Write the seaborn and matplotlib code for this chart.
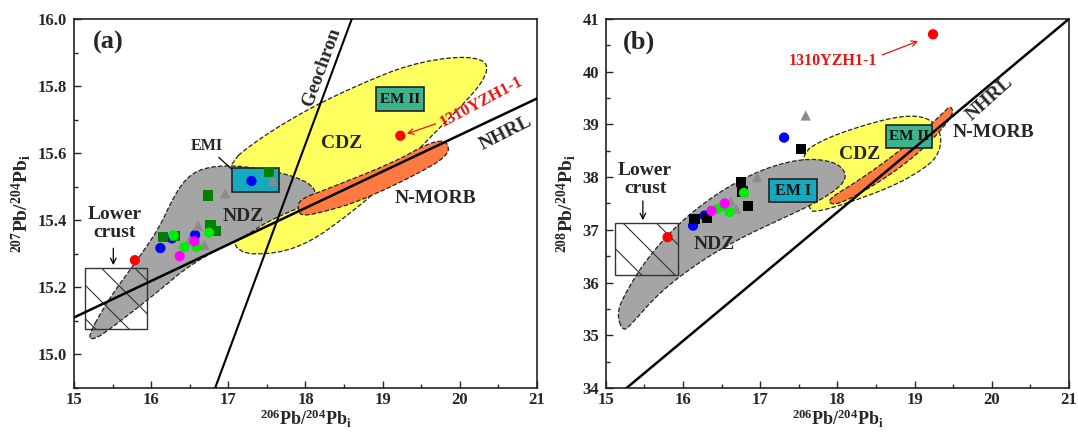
import numpy as np
import pandas as pd
import matplotlib
matplotlib.use("Agg")
import matplotlib.pyplot as plt
import seaborn as sns
from matplotlib.patches import Polygon, Rectangle
from matplotlib.ticker import MultipleLocator

# ---- sample data, panel (a): 206Pb/204Pb vs 207Pb/204Pb ----
a_blue_x = [16.12, 16.27, 16.57, 17.30]
a_blue_y = [15.317, 15.346, 15.356, 15.517]
a_sq_x = [16.15, 16.31, 16.74, 16.77, 16.84, 17.53]
a_sq_y = [15.349, 15.352, 15.474, 15.386, 15.368, 15.543]
a_tri_x = [16.50, 16.61, 16.69, 16.96, 17.58]
a_tri_y = [15.342, 15.384, 15.327, 15.480, 15.518]
a_lime_x = [16.29, 16.43, 16.59, 16.75]
a_lime_y = [15.355, 15.320, 15.321, 15.363]
a_mag_x = [16.37, 16.56]
a_mag_y = [15.293, 15.337]
a_red_x = [15.79, 19.23]
a_red_y = [15.281, 15.652]

# ---- sample data, panel (b): 206Pb/204Pb vs 208Pb/204Pb ----
b_blue_x = [16.13, 16.28, 17.31]
b_blue_y = [37.08, 37.27, 38.75]
b_sq_x = [16.15, 16.31, 16.75, 16.77, 16.84, 17.53]
b_sq_y = [37.21, 37.22, 37.91, 37.73, 37.45, 38.53]
b_tri_x = [16.55, 16.62, 16.69, 16.96, 17.59]
b_tri_y = [37.46, 37.54, 37.40, 38.00, 39.17]
b_lime_x = [16.45, 16.60, 16.79]
b_lime_y = [37.40, 37.34, 37.70]
b_mag_x = [16.37, 16.54]
b_mag_y = [37.36, 37.50]
b_red_x = [15.80, 19.24]
b_red_y = [36.86, 40.71]

# ---- reference fields (outline vertices) ----
a_ndz = [(15.17, 15.05), (15.45, 15.165), (15.80, 15.275), (16.10, 15.375), (16.28, 15.465),
         (16.45, 15.525), (16.67, 15.556), (17.06, 15.565), (17.63, 15.545), (17.98, 15.52),
         (18.14, 15.49), (18.10, 15.455), (17.84, 15.43), (17.50, 15.395), (17.24, 15.355),
         (16.55, 15.276), (16.03, 15.176), (15.47, 15.076), (15.27, 15.045)]
a_cdz = [(16.96, 15.562), (17.41, 15.645), (18.06, 15.735), (18.70, 15.805), (19.35, 15.865),
         (20.0, 15.89), (20.37, 15.875), (20.32, 15.818), (20.0, 15.735), (19.65, 15.655),
         (19.44, 15.605), (18.92, 15.485), (18.49, 15.405), (18.06, 15.335), (17.63, 15.3),
         (17.09, 15.3), (17.03, 15.40)]
a_morb = [(17.92, 15.462), (18.27, 15.492), (19.14, 15.572), (19.61, 15.632), (19.84, 15.638),
          (19.86, 15.592), (19.35, 15.526), (18.70, 15.457), (18.27, 15.427), (17.96, 15.412),
          (17.90, 15.43)]
b_ndz = [(15.22, 35.06), (15.14, 35.42), (15.26, 35.82), (15.53, 36.45), (15.92, 37.09),
         (16.35, 37.60), (16.78, 37.98), (17.21, 38.24), (17.64, 38.36), (18.01, 38.27),
         (18.13, 38.02), (18.01, 37.78), (17.69, 37.49), (17.25, 37.19), (16.74, 36.84),
         (16.22, 36.40), (15.70, 35.82), (15.35, 35.24)]
b_cdz = [(17.62, 37.36), (17.50, 38.42), (17.86, 38.75), (18.51, 39.06), (18.94, 39.18),
         (19.22, 39.10), (19.36, 38.78), (19.30, 38.38), (19.07, 38.11), (18.72, 37.83),
         (18.20, 37.54), (17.77, 37.35)]
b_morb = [(17.88, 37.58), (18.29, 37.95), (18.72, 38.40), (19.15, 38.91), (19.37, 39.22),
          (19.47, 39.36), (19.51, 39.19), (19.24, 38.72), (18.90, 38.27), (18.46, 37.83),
          (18.07, 37.52), (17.92, 37.48)]

# boxes: x0, x1, y0, y1
a_crust = (15.14, 15.95, 15.075, 15.257)
a_em1 = (17.05, 17.66, 15.483, 15.557)
a_em2 = (18.92, 19.53, 15.726, 15.796)
b_crust = (15.12, 15.94, 36.14, 37.12)
b_em1 = (17.12, 17.74, 37.52, 37.97)
b_em2 = (18.63, 19.23, 38.56, 38.99)

# reference lines
a_nhrl_x = [15.0, 21.0]
a_nhrl_y = [15.11, 15.763]
a_geo_x = [16.83, 18.60]
a_geo_y = [14.9, 16.0]
b_nhrl_x = [15.27, 21.0]
b_nhrl_y = [34.0, 41.0]

sns.set_style("ticks")
plt.rcParams['font.family'] = ['Liberation Serif', 'DejaVu Serif']
plt.rcParams['font.weight'] = 'bold'
plt.rcParams['axes.labelweight'] = 'bold'
plt.rcParams['mathtext.fontset'] = 'custom'
plt.rcParams['mathtext.rm'] = 'Liberation Serif:bold'
plt.rcParams['mathtext.bf'] = 'Liberation Serif:bold'
plt.rcParams['mathtext.it'] = 'Liberation Serif:bold'
plt.rcParams['hatch.linewidth'] = 0.8

GRAY = '#a5a5a5'
YELLOW = '#ffff60'
ORANGE = '#ff7a40'
CYAN = '#16aabf'
TEAL = '#3cb38c'
RED_TXT = '#ee1111'


def smooth(pts, n=2):
    p = np.array(pts)
    for _ in range(n):
        q = np.roll(p, -1, axis=0)
        p = np.stack([0.75 * p + 0.25 * q, 0.25 * p + 0.75 * q], axis=1).reshape(-1, 2)
    return p


def field(ax, pts, color, z=1):
    ax.add_patch(Polygon(smooth(pts), closed=True, facecolor=color,
                         edgecolor='#222222', lw=0.9, linestyle='--', zorder=z))


def box(ax, b, color, label=None, fs=11):
    x0, x1, y0, y1 = b
    ax.add_patch(Rectangle((x0, y0), x1 - x0, y1 - y0, facecolor=color,
                           edgecolor='#222222', lw=1.2, zorder=4))
    if label:
        ax.text((x0 + x1) / 2, (y0 + y1) / 2, label, ha='center', va='center',
                fontsize=fs, fontweight='bold', color='#111111', zorder=5)


def crust(ax, b):
    x0, x1, y0, y1 = b
    ax.add_patch(Rectangle((x0, y0), x1 - x0, y1 - y0, fill=False, hatch='\\',
                           edgecolor='#333333', lw=1.0, zorder=3))


def label(ax, x, y, s, fs=14, **kw):
    ax.text(x, y, s, fontsize=fs, fontweight='bold', ha='center', va='center', **kw)


def points(ax, groups, sq_color):
    frames = []
    for name, xs, ys in groups:
        frames.append(pd.DataFrame({'x': xs, 'y': ys, 'g': name}))
    df = pd.concat(frames, ignore_index=True)
    pal = {'blue': '#0000ff', 'sq': sq_color, 'tri': '#8c8c8c', 'lime': '#00ee00',
           'mag': '#ff00ff', 'red': '#ff0000'}
    mk = {'blue': 'o', 'sq': 's', 'tri': '^', 'lime': 'o', 'mag': 'o', 'red': 'o'}
    sns.scatterplot(data=df, x='x', y='y', hue='g', style='g', palette=pal,
                    markers=mk, s=55, linewidth=0, legend=False, ax=ax, zorder=6)


def style_axes(ax, ymaj, ymin, ylabel, yfmt):
    ax.set_xlim(15, 21)
    ax.xaxis.set_major_locator(MultipleLocator(1))
    ax.xaxis.set_minor_locator(MultipleLocator(0.5))
    ax.yaxis.set_major_locator(MultipleLocator(ymaj))
    ax.yaxis.set_minor_locator(MultipleLocator(ymin))
    ax.yaxis.set_major_formatter(yfmt)
    ax.tick_params(which='both', direction='in', top=False, right=False,
                   labelsize=12, width=1.0)
    ax.tick_params(axis='x', pad=3)
    ax.tick_params(axis='y', pad=5)
    ax.tick_params(which='major', length=5)
    ax.tick_params(which='minor', length=3)
    for t in ax.get_xticklabels() + ax.get_yticklabels():
        t.set_fontweight('bold')
    for s in ax.spines.values():
        s.set_linewidth(1.2)
        s.set_color('#222222')
    ax.set_xlabel(r'$^{206}$Pb/$^{204}$Pb$_{\mathrm{i}}$', fontsize=13,
                  fontweight='bold', labelpad=0)
    ax.set_ylabel(ylabel, fontsize=14, fontweight='bold', labelpad=3)


fig = plt.figure(figsize=(10.78, 4.32), dpi=100)
ax1 = fig.add_axes([0.0686, 0.102, 0.4295, 0.854])
ax2 = fig.add_axes([0.562, 0.102, 0.4295, 0.854])

# ---------- panel (a) ----------
field(ax1, a_cdz, YELLOW, z=1)
field(ax1, a_ndz, GRAY, z=2)
field(ax1, a_morb, ORANGE, z=3)
crust(ax1, a_crust)
box(ax1, a_em1, CYAN)
box(ax1, a_em2, TEAL, 'EM II')
ax1.plot(a_nhrl_x, a_nhrl_y, color='black', lw=1.8, zorder=5)
ax1.plot(a_geo_x, a_geo_y, color='black', lw=1.5, zorder=5)
points(ax1, [('blue', a_blue_x, a_blue_y), ('sq', a_sq_x, a_sq_y), ('tri', a_tri_x, a_tri_y),
             ('lime', a_lime_x, a_lime_y), ('mag', a_mag_x, a_mag_y), ('red', a_red_x, a_red_y)],
       '#008000')
ax1.text(15.25, 15.93, '(a)', fontsize=19, fontweight='bold', va='center')
label(ax1, 18.21, 15.858, 'Geochron', rotation=70)
label(ax1, 18.47, 15.63, 'CDZ')
label(ax1, 17.19, 15.41, 'NDZ')
label(ax1, 19.68, 15.465, 'N-MORB')
label(ax1, 20.6, 15.66, 'NHRL', rotation=27)
label(ax1, 20.28, 15.753, '1310YZH1-1', fs=12, rotation=28, color=RED_TXT)
ax1.annotate('', xy=(19.28, 15.655), xytext=(19.72, 15.69),
             arrowprops=dict(arrowstyle='->', color=RED_TXT, lw=0.9))
label(ax1, 16.72, 15.62, 'EMI', fs=11.5)
ax1.annotate('', xy=(17.2, 15.52), xytext=(16.85, 15.593),
             arrowprops=dict(arrowstyle='->', color='black', lw=0.9))
label(ax1, 15.53, 15.39, 'Lower\ncrust', linespacing=1.1)
ax1.annotate('', xy=(15.51, 15.258), xytext=(15.51, 15.325),
             arrowprops=dict(arrowstyle='->', color='black', lw=0.9))
ax1.set_ylim(14.9, 16.0)
style_axes(ax1, 0.2, 0.1, r'$^{207}$Pb/$^{204}$Pb$_{\mathrm{i}}$', '{x:.1f}')

# ---------- panel (b) ----------
field(ax2, b_cdz, YELLOW, z=1)
field(ax2, b_ndz, GRAY, z=2)
field(ax2, b_morb, ORANGE, z=3)
crust(ax2, b_crust)
box(ax2, b_em1, CYAN, 'EM I', fs=11.5)
box(ax2, b_em2, TEAL, 'EM II', fs=11)
ax2.plot(b_nhrl_x, b_nhrl_y, color='black', lw=1.8, zorder=5)
points(ax2, [('blue', b_blue_x, b_blue_y), ('sq', b_sq_x, b_sq_y), ('tri', b_tri_x, b_tri_y),
             ('lime', b_lime_x, b_lime_y), ('mag', b_mag_x, b_mag_y), ('red', b_red_x, b_red_y)],
       '#000000')
ax2.text(15.22, 40.56, '(b)', fontsize=19, fontweight='bold', va='center')
label(ax2, 17.94, 40.21, '1310YZH1-1', fs=11.5, color=RED_TXT)
ax2.annotate('', xy=(19.08, 40.6), xytext=(18.55, 40.3),
             arrowprops=dict(arrowstyle='->', color=RED_TXT, lw=0.9))
label(ax2, 19.97, 39.48, 'NHRL', rotation=42)
label(ax2, 20.02, 38.84, 'N-MORB')
label(ax2, 18.29, 38.43, 'CDZ')
label(ax2, 16.40, 36.72, 'NDZ')
label(ax2, 15.51, 37.95, 'Lower\ncrust', linespacing=1.1)
ax2.annotate('', xy=(15.48, 37.13), xytext=(15.48, 37.6),
             arrowprops=dict(arrowstyle='->', color='black', lw=0.9))
ax2.set_ylim(34, 41)
style_axes(ax2, 1, 0.5, r'$^{208}$Pb/$^{204}$Pb$_{\mathrm{i}}$', '{x:.0f}')

fig.savefig('out.png', dpi=100)
